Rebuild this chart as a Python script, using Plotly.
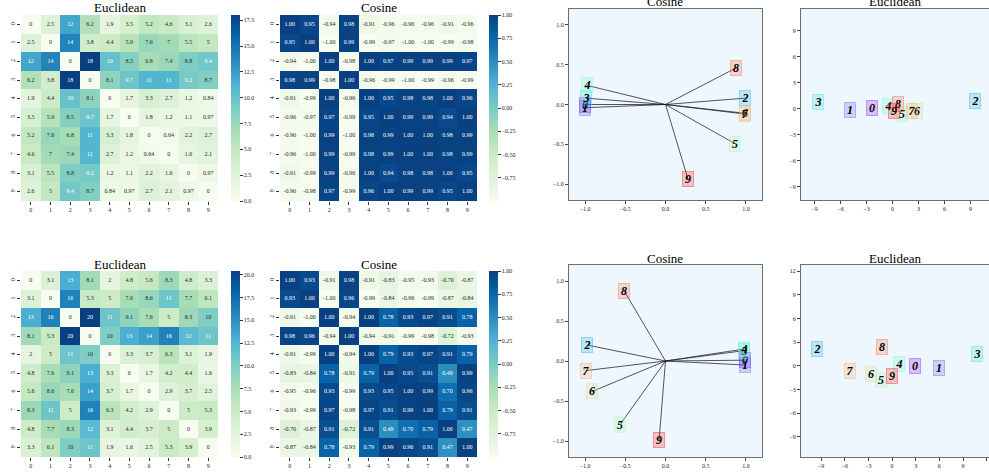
import plotly.graph_objects as go

W, H = 989, 473
FONT = "Liberation Serif"
labels = [str(i) for i in range(10)]

# ---------------- data ----------------
euc_top = [
    [0, 2.5, 12, 6.2, 1.9, 3.5, 5.2, 4.6, 3.1, 2.6],
    [2.5, 0, 14, 3.8, 4.4, 5.9, 7.6, 7, 5.5, 5],
    [12, 14, 0, 18, 10, 8.5, 6.8, 7.4, 8.8, 9.4],
    [6.2, 3.8, 18, 0, 8.1, 9.7, 11, 11, 9.2, 8.7],
    [1.9, 4.4, 10, 8.1, 0, 1.7, 3.3, 2.7, 1.2, 0.84],
    [3.5, 5.9, 8.5, 9.7, 1.7, 0, 1.8, 1.2, 1.1, 0.97],
    [5.2, 7.6, 6.8, 11, 3.3, 1.8, 0, 0.64, 2.2, 2.7],
    [4.6, 7, 7.4, 11, 2.7, 1.2, 0.64, 0, 1.6, 2.1],
    [3.1, 5.5, 8.8, 9.2, 1.2, 1.1, 2.2, 1.6, 0, 0.97],
    [2.6, 5, 9.4, 8.7, 0.84, 0.97, 2.7, 2.1, 0.97, 0],
]
cos_top = [
    [1.00, 0.95, -0.94, 0.98, -0.91, -0.96, -0.96, -0.96, -0.91, -0.96],
    [0.95, 1.00, -1.00, 0.99, -0.99, -0.97, -1.00, -1.00, -0.99, -0.98],
    [-0.94, -1.00, 1.00, -0.98, 1.00, 0.97, 0.99, 0.99, 0.99, 0.97],
    [0.98, 0.99, -0.98, 1.00, -0.96, -0.99, -1.00, -0.99, -0.96, -0.99],
    [-0.91, -0.99, 1.00, -0.96, 1.00, 0.95, 0.98, 0.98, 1.00, 0.96],
    [-0.96, -0.97, 0.97, -0.99, 0.95, 1.00, 0.99, 0.99, 0.94, 1.00],
    [-0.96, -1.00, 0.99, -1.00, 0.98, 0.99, 1.00, 1.00, 0.98, 0.99],
    [-0.96, -1.00, 0.99, -0.99, 0.98, 0.99, 1.00, 1.00, 0.98, 0.99],
    [-0.91, -0.99, 0.99, -0.96, 1.00, 0.94, 0.98, 0.98, 1.00, 0.95],
    [-0.96, -0.98, 0.97, -0.99, 0.96, 1.00, 0.99, 0.99, 0.95, 1.00],
]
euc_bot = [
    [0, 3.1, 13, 8.1, 2, 4.8, 5.6, 8.3, 4.8, 3.3],
    [3.1, 0, 16, 5.3, 5, 7.6, 8.6, 11, 7.7, 6.1],
    [13, 16, 0, 20.4, 11, 9.1, 7.6, 5, 8.3, 10],
    [8.1, 5.3, 20.4, 0, 10, 13, 14, 16, 12, 11],
    [2, 5, 11, 10, 0, 3.3, 3.7, 6.3, 3.1, 1.9],
    [4.8, 7.6, 9.1, 13, 3.3, 0, 1.7, 4.2, 4.4, 1.6],
    [5.6, 8.6, 7.6, 14, 3.7, 1.7, 0, 2.9, 3.7, 2.5],
    [8.3, 11, 5, 16, 6.3, 4.2, 2.9, 0, 5, 5.3],
    [4.8, 7.7, 8.3, 12, 3.1, 4.4, 3.7, 5, 0, 3.9],
    [3.3, 6.1, 10, 11, 1.9, 1.6, 2.5, 5.3, 3.9, 0],
]
cos_bot = [
    [1.00, 0.93, -0.91, 0.98, -0.91, -0.83, -0.95, -0.93, -0.70, -0.87],
    [0.93, 1.00, -1.00, 0.96, -0.99, -0.84, -0.96, -0.99, -0.87, -0.84],
    [-0.91, -1.00, 1.00, -0.94, 1.00, 0.78, 0.93, 0.97, 0.91, 0.78],
    [0.98, 0.96, -0.94, 1.00, -0.94, -0.91, -0.99, -0.98, -0.72, -0.93],
    [-0.91, -0.99, 1.00, -0.94, 1.00, 0.79, 0.93, 0.97, 0.91, 0.79],
    [-0.83, -0.84, 0.78, -0.91, 0.79, 1.00, 0.95, 0.91, 0.49, 0.99],
    [-0.95, -0.96, 0.93, -0.99, 0.93, 0.95, 1.00, 0.99, 0.70, 0.96],
    [-0.93, -0.99, 0.97, -0.98, 0.97, 0.91, 0.99, 1.00, 0.79, 0.91],
    [-0.70, -0.87, 0.91, -0.72, 0.91, 0.49, 0.70, 0.79, 1.00, 0.47],
    [-0.87, -0.84, 0.78, -0.93, 0.79, 0.99, 0.96, 0.91, 0.47, 1.00],
]

cos_top_x = [-1.0, -1.0, 0.99, -0.99, -0.975, 0.86, 0.99, 0.99, 0.88, 0.28]
cos_top_y = [0.0, -0.04, 0.08, 0.08, 0.24, -0.49, -0.11, -0.12, 0.46, -0.94]
euc_top_x = [-2.39, -4.86, 9.49, -8.55, -0.49, 1.06, 2.85, 2.28, 0.68, 0.19]
euc_top_y = [0.08, -0.11, 0.84, 0.72, 0.27, -0.61, -0.30, -0.23, 0.53, -0.30]
cos_bot_x = [0.99, 0.99, -0.975, 0.98, 0.98, -0.57, -0.91, -0.99, -0.51, -0.08]
cos_bot_y = [0.01, -0.05, 0.20, 0.13, 0.15, -0.80, -0.38, -0.12, 0.87, -0.99]
euc_bot_x = [2.89, 5.94, -9.54, 10.8, 0.92, -1.38, -2.64, -5.36, -1.30, -0.04]
euc_bot_y = [0.0, -0.29, 2.1, 1.47, 0.25, -1.77, -1.01, -0.59, 2.36, -1.26]

euc_top_ticks = [0.0, 2.5, 5.0, 7.5, 10.0, 12.5, 15.0, 17.5]
euc_bot_ticks = [0.0, 2.5, 5.0, 7.5, 10.0, 12.5, 15.0, 17.5, 20.0]
cos_ticks = [-0.75, -0.5, -0.25, 0.0, 0.25, 0.5, 0.75, 1.0]
cos_axis_ticks = [-1.0, -0.5, 0.0, 0.5, 1.0]
euc_top_axis_ticks = [-9, -6, -3, 0, 3, 6, 9]
euc_bot_axis_ticks = [-9, -6, -3, 0, 3, 6, 9, 12]

# ---------------- helpers ----------------
def xdom(a, b):
    return [a / W, b / W]

def ydom(top, bottom):
    return [1 - bottom / H, 1 - top / H]

def rainbow(i, n=10):
    import math
    x = i / (n - 1)
    r = min(1.0, abs(2 * x - 0.5))
    g = math.sin(math.pi * x)
    b = math.cos(math.pi * x / 2)
    return int(r * 255), int(g * 255), int(b * 255)

fig = go.Figure()
annotations = []
layout = {}

def add_heatmap(idx, z, fmt, zmin, zmax, ticks, tickfmt, xpx, ypx, cbx, thresh):
    ax = "x" if idx == 1 else f"x{idx}"
    ay = "y" if idx == 1 else f"y{idx}"
    fig.add_trace(go.Heatmap(
        z=z, x=list(range(10)), y=list(range(10)),
        colorscale="GnBu", zmin=zmin, zmax=zmax,
        xaxis=ax, yaxis=ay, hoverinfo="skip",
        colorbar=dict(
            x=cbx / W, xanchor="left", y=1 - ypx[1] / H, yanchor="bottom",
            len=(ypx[1] - ypx[0]) / H, lenmode="fraction",
            thickness=9, thicknessmode="pixels", outlinewidth=0,
            xpad=0, ypad=0, ticks="outside", ticklen=3, tickwidth=0.8,
            tickcolor="#333", tickvals=ticks, tickformat=tickfmt,
            tickfont=dict(family=FONT, size=6, color="#222"),
        ),
    ))
    xs, ys, txt, cols = [], [], [], []
    for r in range(10):
        for c in range(10):
            v = z[r][c]
            xs.append(c)
            ys.append(r)
            txt.append(format(v, fmt))
            norm = (v - zmin) / (zmax - zmin)
            cols.append("white" if norm > thresh else "#262626")
    fig.add_trace(go.Scatter(
        x=xs, y=ys, mode="text", text=txt, xaxis=ax, yaxis=ay,
        textfont=dict(family=FONT, size=6, color=cols),
        hoverinfo="skip", showlegend=False,
    ))
    tick = dict(family=FONT, size=6, color="#222")
    layout["xaxis" if idx == 1 else f"xaxis{idx}"] = dict(
        domain=xdom(*xpx), anchor=ay, range=[-0.5, 9.5],
        tickvals=list(range(10)), ticktext=labels, ticks="outside",
        ticklen=3, tickwidth=0.8, tickcolor="#333", showgrid=False,
        zeroline=False, showline=False, tickfont=tick, fixedrange=True,
    )
    layout["yaxis" if idx == 1 else f"yaxis{idx}"] = dict(
        domain=ydom(*ypx), anchor=ax, range=[9.5, -0.5],
        tickvals=list(range(10)), ticktext=labels, ticks="outside",
        ticklen=3, tickwidth=0.8, tickcolor="#333", showgrid=False,
        zeroline=False, showline=False, tickfont=tick, tickangle=-90,
        fixedrange=True,
    )

def add_scatter(idx, px, py, lines, xr, yr, tickv, tickfmt, xpx, ypx, mirror_y=True):
    ax = f"x{idx}"
    ay = f"y{idx}"
    if lines:
        lx, ly = [], []
        for a, b in zip(px, py):
            lx += [0, a, None]
            ly += [0, b, None]
        fig.add_trace(go.Scatter(
            x=lx, y=ly, mode="lines", xaxis=ax, yaxis=ay,
            line=dict(color="rgba(30,30,30,0.75)", width=1),
            hoverinfo="skip", showlegend=False,
        ))
    else:
        fig.add_trace(go.Scatter(x=[px[0]], y=[py[0]], mode="markers",
                                 marker=dict(opacity=0), xaxis=ax, yaxis=ay,
                                 hoverinfo="skip", showlegend=False))
    for i, (a, b) in enumerate(zip(px, py)):
        r, g, bb = rainbow(i)
        annotations.append(dict(
            x=a, y=b, xref=ax, yref=ay, text=f"<b><i>{labels[i]}</i></b>",
            showarrow=False, font=dict(family=FONT, size=12, color="black"),
            bgcolor=f"rgba({r},{g},{bb},0.22)",
            bordercolor=f"rgba({r},{g},{bb},0.35)", borderwidth=1,
            width=10, height=14, borderpad=0, xanchor="center", yanchor="middle",
        ))
    tick = dict(family=FONT, size=6, color="#222")
    common = dict(showgrid=False, zeroline=False, showline=True,
                  linecolor="#6e6e6e", linewidth=1, ticks="outside",
                  ticklen=3, tickwidth=0.8, tickcolor="#444",
                  tickvals=tickv, tickformat=tickfmt, tickfont=tick,
                  fixedrange=True)
    layout[f"xaxis{idx}"] = dict(domain=xdom(*xpx), anchor=ay, range=xr,
                                 mirror=True, **common)
    layout[f"yaxis{idx}"] = dict(domain=ydom(*ypx), anchor=ax, range=yr,
                                 mirror=mirror_y, **common)

# ---------------- heatmaps ----------------
add_heatmap(1, euc_top, ".2g", 0, max(max(r) for r in euc_top), euc_top_ticks, ".1f",
            (21, 218), (15, 201), 231, 0.5)
add_heatmap(2, cos_top, ".2f", -1.0, 1.0, cos_ticks, ".2f",
            (280, 477), (15, 201), 489, 0.5)
add_heatmap(5, euc_bot, ".2g", 0, max(max(r) for r in euc_bot), euc_bot_ticks, ".1f",
            (21, 218), (271, 457), 231, 0.5)
add_heatmap(6, cos_bot, ".2f", -1.0, 1.0, cos_ticks, ".2f",
            (280, 477), (271, 457), 489, 0.5)

# ---------------- scatter panels ----------------
add_scatter(3, cos_top_x, cos_top_y, True, [-1.2, 1.2], [-1.2, 1.2], cos_axis_ticks, ".1f",
            (569, 762), (9, 200))
add_scatter(7, cos_bot_x, cos_bot_y, True, [-1.2, 1.2], [-1.2, 1.2], cos_axis_ticks, ".1f",
            (569, 762), (265, 457))

def lims(xs, ys):
    lo = min(xs + ys) - 2
    hi = max(xs + ys) + 2
    return lo, hi

lo, hi = lims(euc_top_x, euc_top_y)
add_scatter(4, euc_top_x, euc_top_y, False, [lo, lo + (hi - lo) * 188 / 191], [lo, hi],
            euc_top_axis_ticks, "d", (801, 989), (9, 200), mirror_y=False)
lo, hi = lims(euc_bot_x, euc_bot_y)
add_scatter(8, euc_bot_x, euc_bot_y, False, [lo, lo + (hi - lo) * 188 / 192], [lo, hi],
            euc_bot_axis_ticks, "d", (801, 989), (265, 457), mirror_y=False)

# ---------------- titles ----------------
titles = [("Euclidean", 120, 8), ("Cosine", 379, 8), ("Cosine", 665, 1),
          ("Euclidean", 895, 1), ("Euclidean", 120, 264), ("Cosine", 379, 264),
          ("Cosine", 665, 258), ("Euclidean", 895, 258)]
for t, xp, yp in titles:
    annotations.append(dict(text=t, x=xp / W, y=1 - yp / H, xref="paper", yref="paper",
                            showarrow=False, xanchor="center", yanchor="middle",
                            font=dict(family=FONT, size=13, color="black")))

fig.update_layout(
    width=W, height=H, margin=dict(l=0, r=0, t=0, b=0),
    paper_bgcolor="white", plot_bgcolor="#eef6fe",
    showlegend=False, annotations=annotations, **layout,
)
fig.write_html(
    "out.html",
    config={"displayModeBar": False},
    post_script="document.body.style.margin='0';document.body.style.overflow='hidden';",
)
